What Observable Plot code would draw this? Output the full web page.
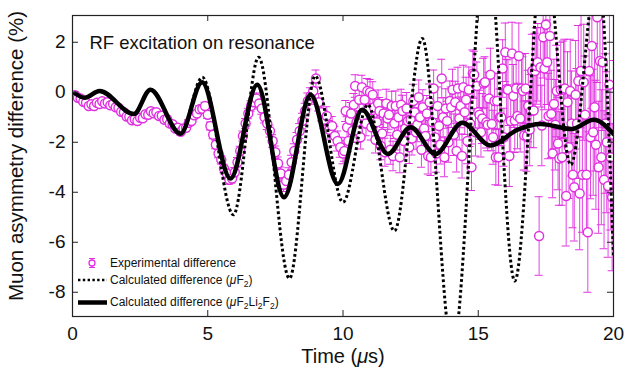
<!DOCTYPE html>
<html><head><meta charset="utf-8">
<script src="https://cdn.jsdelivr.net/npm/d3@7"></script>
<script src="https://cdn.jsdelivr.net/npm/@observablehq/plot@0.6"></script>
<style>
body{margin:0;background:#fff;}
#wrap{position:relative;width:634px;height:386px;font-family:"Liberation Sans",Arial,Helvetica,sans-serif;}
.leg{position:absolute;left:72px;height:16px;display:flex;align-items:center;font-size:12px;color:#111;white-space:nowrap;}
.leg svg{width:38px;height:16px;flex:none;overflow:visible;}
.leg sub{font-size:8.5px;vertical-align:-3px;line-height:0;}
</style></head><body>
<div id="wrap"><div id="chart"></div>
<div class="leg" style="top:255px"><svg viewBox="0 0 38 16"><line x1="20" x2="20" y1="3.5" y2="12.5" stroke="#e030e0"/><line x1="17" x2="23" y1="3.5" y2="3.5" stroke="#e030e0"/><line x1="17" x2="23" y1="12.5" y2="12.5" stroke="#e030e0"/><circle cx="20" cy="8" r="3" fill="#fff" stroke="#e030e0" stroke-width="1.3"/></svg><span>Experimental difference</span></div>
<div class="leg" style="top:272px"><svg viewBox="0 0 38 16"><line x1="6" x2="35" y1="8" y2="8" stroke="#000" stroke-width="2.6" stroke-dasharray="2.4,2.4"/></svg><span>Calculated difference (<i>μ</i>F<sub>2</sub>)</span></div>
<div class="leg" style="top:294px"><svg viewBox="0 0 38 16"><line x1="6" x2="35" y1="8.5" y2="8.5" stroke="#000" stroke-width="4.5"/></svg><span>Calculated difference (<i>μ</i>F<sub>2</sub>Li<sub>2</sub>F<sub>2</sub>)</span></div>
</div>
<script>
// x ticks / y ticks
const xTicks = [0, 5, 10, 15, 20];
const yTicks = [-8, -6, -4, -2, 0, 2];

// Experimental difference, early part: bins of 0.1 us from 0.1 to 10.0 us
const earlyStart = 0.1, earlyStep = 0.1;
const earlyValue = [
  -0.12,-0.22,-0.25,-0.38,-0.42,-0.55,-0.48,-0.55,-0.42,-0.47,
  -0.36,-0.45,-0.40,-0.52,-0.47,-0.60,-0.62,-0.78,-0.80,-0.97,
  -0.98,-1.12,-1.08,-1.15,-1.02,-1.04,-0.88,-0.90,-0.76,-0.84,
  -0.80,-0.95,-0.94,-1.10,-1.08,-1.25,-1.28,-1.45,-1.42,-1.58,
  -1.45,-1.42,-1.22,-1.15,-0.92,-0.85,-0.68,-0.66,-0.55,-0.90,
  -1.35,-1.70,-2.10,-2.45,-2.70,-3.05,-3.25,-3.50,-3.45,-3.20,
  -2.80,-2.35,-1.75,-1.25,-0.85,-0.55,-0.40,-0.25,-0.45,-0.65,
  -1.00,-1.25,-1.55,-1.95,-2.40,-2.85,-3.25,-3.70,-3.55,-3.30,
  -2.80,-2.35,-1.90,-1.55,-1.15,-0.75,-0.35,-0.15,0.05,0.55,
  -0.40,-0.80,-1.10,-0.95,-1.50,-1.35,-1.75,-1.95,-2.20,-2.45
];
const earlyError = [
  0.06,0.06,0.06,0.07,0.07,0.07,0.07,0.07,0.07,0.08,
  0.08,0.08,0.08,0.08,0.08,0.09,0.09,0.09,0.09,0.09,
  0.09,0.10,0.10,0.10,0.10,0.10,0.10,0.11,0.11,0.11,
  0.11,0.11,0.11,0.12,0.12,0.12,0.12,0.12,0.12,0.13,
  0.13,0.13,0.13,0.14,0.14,0.14,0.14,0.15,0.15,0.15,
  0.16,0.16,0.16,0.17,0.17,0.17,0.18,0.18,0.18,0.19,
  0.19,0.19,0.20,0.20,0.21,0.21,0.21,0.22,0.22,0.23,
  0.23,0.24,0.24,0.25,0.25,0.26,0.26,0.27,0.27,0.28,
  0.28,0.29,0.29,0.30,0.31,0.31,0.32,0.33,0.33,0.34,
  0.35,0.35,0.36,0.37,0.37,0.38,0.39,0.40,0.40,0.41
];

// Experimental difference, late part: bins of 0.05 us from 10.05 to 20.0 us
const lateStart = 10.05, lateStep = 0.05;
const lateValue = [
  -2.35,-0.75,-1.40,-1.95,-1.10,-0.85,-1.55,-0.50,0.25,-1.20,
  -1.55,-0.30,-1.80,0.20,-0.95,-0.30,-1.25,0.05,-0.70,0.00,
  -1.40,-0.10,-0.60,-1.90,-1.20,-0.45,-0.75,-2.15,-1.65,-0.85,
  -2.40,-0.45,-1.05,-0.90,-2.30,-0.55,-2.55,-1.25,-0.55,-1.70,
  -1.00,-2.60,-0.50,-0.75,-1.95,-1.45,-0.65,-1.15,-2.20,-1.10,
  -1.85,-0.35,-0.80,-1.60,-1.30,-0.20,-1.00,-2.30,-0.60,-1.45,
  -1.75,-0.85,-2.55,-0.40,-2.60,-1.20,0.15,-1.80,-2.45,-0.55,
  -1.35,-2.10,0.55,-1.00,-2.60,-0.65,-1.15,-2.00,-0.35,-0.60,
  0.10,-1.70,-0.40,-2.35,0.15,-1.05,-0.55,-2.55,0.20,-0.80,
  -0.30,-1.95,0.10,-1.25,-3.00,0.75,0.70,-1.60,0.25,-0.80,
  -0.90,-1.60,-1.05,0.35,0.40,-1.20,-1.30,-0.25,0.70,-1.27,
  -1.80,-0.35,-2.60,-0.35,-2.60,-1.00,-1.00,0.95,-1.80,1.60,
  0.13,0.10,-2.55,-1.15,1.55,-0.15,-1.13,0.15,-0.95,1.45,
  -1.05,0.15,0.05,-1.73,0.15,-1.75,-0.55,-1.50,-0.75,0.85,
  -0.73,0.85,1.05,1.20,-5.75,1.00,-1.33,2.20,0.95,2.70,
  1.20,-0.95,2.25,-0.87,-2.45,-0.47,-1.30,0.05,-2.05,-2.65,
  0.10,-2.60,0.10,0.15,-4.15,-0.40,-2.20,0.05,-1.25,-3.30,
  -3.80,-0.10,-1.25,0.45,-4.05,0.85,-3.30,0.40,-0.90,-3.30,
  -5.60,0.85,-1.80,1.85,-1.60,-0.60,-2.10,3.00,-3.00,1.25,
  -2.60,1.20,-3.50,-1.25,-2.00,-3.75,0.30,-2.60,-4.20,-1.70
];
const lateError = [
  0.41,0.42,0.42,0.43,0.43,0.44,0.44,0.45,0.45,0.46,
  0.46,0.47,0.47,0.48,0.48,0.49,0.49,0.50,0.50,0.51,
  0.51,0.52,0.52,0.53,0.53,0.54,0.54,0.55,0.55,0.56,
  0.56,0.57,0.57,0.58,0.58,0.59,0.59,0.60,0.60,0.61,
  0.61,0.62,0.62,0.63,0.63,0.64,0.64,0.65,0.65,0.66,
  0.66,0.67,0.67,0.68,0.68,0.69,0.69,0.70,0.70,0.71,
  0.71,0.72,0.72,0.73,0.73,0.74,0.74,0.75,0.75,0.76,
  0.76,0.77,0.77,0.78,0.78,0.79,0.79,0.80,0.80,0.81,
  0.82,0.83,0.84,0.84,0.85,0.86,0.87,0.88,0.88,0.89,
  0.90,0.91,0.91,0.92,0.93,0.94,0.94,0.95,0.96,0.97,
  0.98,0.99,1.00,1.01,1.02,1.03,1.04,1.05,1.06,1.07,
  1.08,1.09,1.10,1.11,1.12,1.13,1.14,1.15,1.16,1.17,
  1.19,1.20,1.22,1.23,1.25,1.26,1.28,1.29,1.31,1.32,
  1.34,1.35,1.37,1.38,1.40,1.41,1.43,1.44,1.46,1.47,
  1.49,1.51,1.53,1.55,1.57,1.59,1.61,1.63,1.65,1.67,
  1.69,1.71,1.73,1.75,1.77,1.79,1.81,1.83,1.85,1.87,
  1.90,1.92,1.95,1.97,2.00,2.02,2.05,2.07,2.10,2.12,
  2.15,2.17,2.20,2.22,2.25,2.27,2.30,2.32,2.35,2.37,
  2.40,2.43,2.46,2.49,2.52,2.55,2.58,2.61,2.64,2.67,
  2.70,2.73,2.76,2.79,2.82,2.85,2.88,2.91,2.94,2.97
];

// Calculated difference (muF2Li2F2) - solid curve, read at turning points
const solidTime  = [0.1, 0.45, 1.0, 2.27, 2.88, 3.99, 4.79, 5.84, 6.83, 7.82, 8.8, 9.81, 10.71, 11.66, 12.5, 13.42, 14.41, 15.45, 16.45, 17.3, 18.45, 19.27, 20.0];
const solidValue = [-0.05, -0.22, 0.05, -0.87, 0.1, -1.66, 0.4, -3.45, 0.3, -4.2, -0.1, -3.67, -0.7, -2.47, -1.4, -2.47, -1.22, -2.13, -1.5, -1.27, -1.47, -1.1, -1.67];

// Calculated difference (muF2) - dotted curve
const dottedTime  = [0.1, 0.45, 1.0, 2.27, 2.88, 3.99, 4.8, 5.95, 6.88, 8.02, 8.97, 10.0, 10.92, 11.9, 12.93, 14.05, 15.32, 16.35, 17.43, 18.42, 19.42, 20.0];
const dottedValue = [-0.05, -0.22, 0.05, -0.87, 0.1, -1.66, 0.6, -4.9, 1.4, -7.45, 0.65, -4.4, -0.5, -5.55, 2.15, -10.3, 6.2, -7.55, 6.0, -2.9, 5.0, -6.6];

const expData = [
  ...earlyValue.map((v, i) => ({t: +(earlyStart + i * earlyStep).toFixed(2), v, e: earlyError[i]})),
  ...lateValue.map((v, i) => ({t: +(lateStart + i * lateStep).toFixed(2), v, e: lateError[i]}))
];
const solid = solidTime.map((t, i) => ({t, v: solidValue[i]}));
const dotted = dottedTime.map((t, i) => ({t, v: dottedValue[i]}));

const W = 634, H = 386, mL = 72, mR = 21, mT = 15, mB = 70;
const pw = W - mL - mR, ph = H - mT - mB;
const mag = "#e030e0";
const fmt = d => String(d);

const chart = Plot.plot({
  width: W, height: H,
  marginLeft: mL, marginRight: mR, marginTop: mT, marginBottom: mB,
  style: {fontFamily: '"Liberation Sans", Arial, Helvetica, sans-serif', background: "#fff", color: "#111"},
  x: {domain: [0, 20]},
  y: {domain: [-8.97, 3.07]},
  marks: [
    Plot.ruleX(expData, {x: "t", y1: d => d.v - d.e, y2: d => d.v + d.e, stroke: mag, strokeWidth: 0.9, clip: true}),
    Plot.ruleY(expData, {y: d => d.v + d.e, x1: "t", x2: "t", insetLeft: -4, insetRight: -4, stroke: mag, strokeWidth: 1, clip: true}),
    Plot.ruleY(expData, {y: d => d.v - d.e, x1: "t", x2: "t", insetLeft: -4, insetRight: -4, stroke: mag, strokeWidth: 1, clip: true}),
    Plot.dot(expData, {x: "t", y: "v", r: 4.5, stroke: mag, strokeWidth: 1.4, fill: "#fff", clip: true}),
    Plot.line(dotted, {x: "t", y: "v", curve: "monotone-x", stroke: "#000", strokeWidth: 3, strokeLinecap: "butt", strokeLinejoin: "miter", strokeDasharray: "2.8,2.6", clip: true}),
    Plot.line(solid, {x: "t", y: "v", curve: "monotone-x", stroke: "#000", strokeWidth: 4.5, clip: true}),
    Plot.frame({stroke: "#222", strokeWidth: 1.2}),
    Plot.tickX(xTicks, {x: d => d, insetTop: ph - 6, stroke: "#222"}),
    Plot.tickX(xTicks, {x: d => d, insetBottom: ph - 6, stroke: "#222"}),
    Plot.tickY(yTicks, {y: d => d, insetRight: pw - 6, stroke: "#222"}),
    Plot.tickY(yTicks, {y: d => d, insetLeft: pw - 6, stroke: "#222"}),
    Plot.axisX(xTicks, {anchor: "bottom", tickSize: 0, tickPadding: 10, fontSize: 19, tickFormat: fmt, label: null}),
    Plot.axisY(yTicks, {anchor: "left", tickSize: 0, tickPadding: 7, fontSize: 19, tickFormat: fmt, label: null}),
    Plot.text(["Time (μs)"], {frameAnchor: "bottom", dy: 46, fontSize: 20, fill: "#111"}),
    Plot.text(["Muon asymmetry difference (%)"], {frameAnchor: "left", dx: -56, dy: -10, rotate: -90, textAnchor: "middle", fontSize: 20.5, fill: "#111"}),
    Plot.text(["RF excitation on resonance"], {frameAnchor: "top-left", dx: 17, dy: 20, textAnchor: "start", fontSize: 18.5, fill: "#111"})
  ]
});
for (const t of chart.querySelectorAll("text")) {
  if (t.textContent === "Time (μs)") t.innerHTML = 'Time (<tspan font-style="italic">μ</tspan>s)';
}
document.getElementById("chart").appendChild(chart);
</script>
</body></html>
